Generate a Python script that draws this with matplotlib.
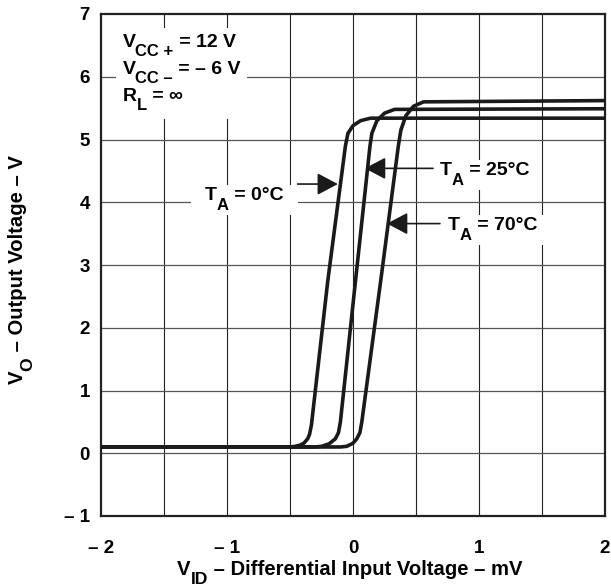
import matplotlib
matplotlib.use('Agg')
import matplotlib.pyplot as plt
from matplotlib.patches import Rectangle
from matplotlib.transforms import IdentityTransform

plt.rcParams['font.family'] = ['Liberation Sans', 'DejaVu Sans']
plt.rcParams['font.weight'] = 'bold'

# transfer curves
x_0C = [-2, -0.5, -0.46, -0.42, -0.39, -0.36, -0.345, -0.33, -0.20, -0.06, -0.04, 0.0, 0.06, 0.14, 2]
y_0C = [0.1, 0.1, 0.11, 0.13, 0.16, 0.23, 0.3, 0.45, 2.75, 4.9, 5.1, 5.22, 5.30, 5.34, 5.34]

x_25C = [-2, -0.30, -0.25, -0.19, -0.14, -0.115, -0.10, 0.02, 0.135, 0.15, 0.19, 0.25, 0.33, 2]
y_25C = [0.1, 0.1, 0.11, 0.15, 0.23, 0.33, 0.5, 2.75, 4.9, 5.1, 5.3, 5.42, 5.48, 5.49]

x_70C = [-2, -0.10, -0.05, 0.0, 0.03, 0.055, 0.07, 0.22, 0.36, 0.38, 0.42, 0.48, 0.56, 2]
y_70C = [0.1, 0.1, 0.11, 0.16, 0.23, 0.33, 0.5, 2.75, 4.9, 5.15, 5.38, 5.53, 5.6, 5.62]

xticks = [-2, -1, 0, 1, 2]
xticklabels = ['\u2013 2', '\u2013 1', '0', '1', '2']
yticks = [-1, 0, 1, 2, 3, 4, 5, 6, 7]
yticklabels = ['\u2013 1', '0', '1', '2', '3', '4', '5', '6', '7']
xgrid = [-1.5, -1, -0.5, 0, 0.5, 1, 1.5]

# (text, is_subscript)
cond_lines = [
    [('V', 0), ('CC +', 1), (' = 12 V', 0)],
    [('V', 0), ('CC \u2013', 1), (' = \u2013 6 V', 0)],
    [('R', 0), ('L', 1), (' = \u221e', 0)],
]
label_0C = [('T', 0), ('A', 1), (' = 0\u00b0C', 0)]
label_25C = [('T', 0), ('A', 1), (' = 25\u00b0C', 0)]
label_70C = [('T', 0), ('A', 1), (' = 70\u00b0C', 0)]
xlabel_parts = [('V', 0), ('ID', 1), (' \u2013 Differential Input Voltage \u2013 mV', 0)]
ylabel_parts = [('V', 0), ('O', 1), (' \u2013 Output Voltage \u2013 V', 0)]

fig = plt.figure(figsize=(6.11, 5.88), dpi=100)
ax = fig.add_axes([101/611, 1 - 516/588, 504/611, 502/588])


def rich(x, y, parts, transform, rot=0, size=14, sub=12, drop=6, zorder=6):
    """draw text pieces one after another, subscripts smaller and lowered"""
    arts = []
    prev = None
    prev_shift = 0
    for s, is_sub in parts:
        fs = sub if is_sub else size
        shift = -drop if is_sub else 0
        if prev is None:
            t = ax.text(x, y, s, transform=transform, fontsize=fs, fontweight='bold',
                        rotation=rot, ha='left' if rot == 0 else 'right',
                        va='baseline' if rot == 0 else 'bottom', zorder=zorder, clip_on=False)
        else:
            d = shift - prev_shift
            if rot == 0:
                t = ax.annotate(s, xy=(1, 0), xycoords=prev, xytext=(0, d), textcoords='offset points',
                                fontsize=fs, fontweight='bold', ha='left', va='bottom',
                                zorder=zorder, annotation_clip=False)
            else:
                t = ax.annotate(s, xy=(1, 1), xycoords=prev, xytext=(-d, 0), textcoords='offset points',
                                fontsize=fs, fontweight='bold', rotation=90, ha='right', va='bottom',
                                zorder=zorder, annotation_clip=False)
        arts.append(t)
        prev = t
        prev_shift = shift
    return arts


def extent(arts):
    fig.canvas.draw()
    bbs = [a.get_window_extent() for a in arts]
    return (min(b.x0 for b in bbs), min(b.y0 for b in bbs),
            max(b.x1 for b in bbs), max(b.y1 for b in bbs))


def white_box(arts, padx=6, pady=3):
    x0, y0, x1, y1 = extent(arts)
    ax.add_patch(Rectangle((x0 - padx, y0 - pady), x1 - x0 + 2 * padx, y1 - y0 + 2 * pady,
                           transform=IdentityTransform(), facecolor='white',
                           edgecolor='none', zorder=3))


ax.set_xlim(-2, 2)
ax.set_ylim(-1, 7)
ax.set_xticks(xticks)
ax.set_xticklabels(xticklabels)
ax.set_yticks(yticks)
ax.set_yticklabels(yticklabels)
ax.tick_params(length=0, labelsize=13.5)
ax.tick_params(axis='x', pad=17)
ax.tick_params(axis='y', pad=8)
for lab in ax.get_xticklabels() + ax.get_yticklabels():
    lab.set_fontweight('bold')

for g in xgrid:
    ax.axvline(g, color='#222222', lw=0.8, zorder=1)
for g in yticks[1:-1]:
    ax.axhline(g, color='#555555', lw=0.9, zorder=1)

for s in ax.spines.values():
    s.set_linewidth(1.6)
    s.set_color('#222222')

for xs, ys in [(x_0C, y_0C), (x_25C, y_25C), (x_70C, y_70C)]:
    ax.plot(xs, ys, color='#1a1a1a', lw=2.6, solid_joinstyle='round', zorder=4)

# conditions block
cond_y = [6.48, 6.05, 5.62]
cond_arts = []
for parts, yy in zip(cond_lines, cond_y):
    cond_arts += rich(-1.83, yy, parts, ax.transData)
white_box(cond_arts, padx=6, pady=6)

arrow = dict(arrowstyle='-|>,head_length=0.85,head_width=0.45', color='#1a1a1a', lw=1.2,
             mutation_scale=15, shrinkA=0, shrinkB=0)

white_box(rich(-1.175, 4.03, label_0C, ax.transData), padx=14, pady=2)
ax.annotate('', xy=(-0.12, 4.29), xytext=(-0.44, 4.29), arrowprops=arrow, zorder=5)

white_box(rich(0.69, 4.43, label_25C, ax.transData), padx=6, pady=2)
ax.annotate('', xy=(0.095, 4.54), xytext=(0.635, 4.54), arrowprops=arrow, zorder=5)

white_box(rich(0.754, 3.55, label_70C, ax.transData), padx=6, pady=2)
ax.annotate('', xy=(0.27, 3.66), xytext=(0.69, 3.66), arrowprops=arrow, zorder=5)

# axis titles, placed in pixels then centred
xl = rich(0, 588 - 575, xlabel_parts, IdentityTransform(), size=14.6, sub=12.6)
x0, y0, x1, y1 = extent(xl)
xl[0].set_x(350 - (x1 - x0) / 2)

yl = rich(27, 0, ylabel_parts, IdentityTransform(), rot=90, size=14.6, sub=12.6)
x0, y0, x1, y1 = extent(yl)
yl[0].set_y(588 - 270 - (y1 - y0) / 2)

fig.savefig('out.png', dpi=100)
